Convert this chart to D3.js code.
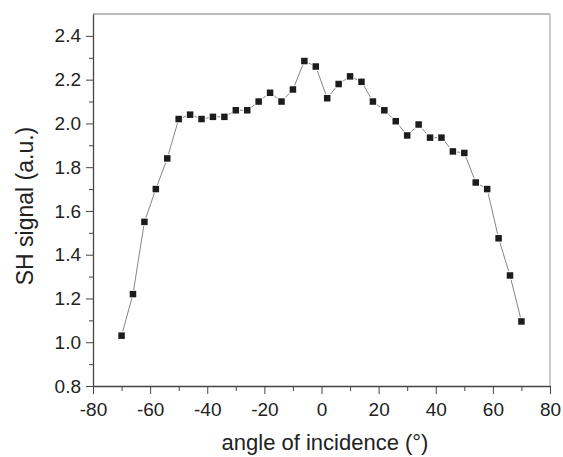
<!DOCTYPE html>
<html>
<head>
<meta charset="utf-8">
<script src="https://cdn.jsdelivr.net/npm/d3@7"></script>
<style>
  body { margin: 0; background: #fff; }
  text { font-family: "Liberation Sans", Arial, sans-serif; fill: #222; }
</style>
</head>
<body>
<script>
// angle of incidence (deg) and SH signal (a.u.)
var angles = [-70, -66, -62, -58, -54, -50, -46, -42, -38, -34, -30, -26, -22, -18, -14, -10, -6, -2,
              2, 6, 10, 14, 18, 22, 26, 30, 34, 38, 42, 46, 50, 54, 58, 62, 66, 70];
var signal = [1.03, 1.22, 1.55, 1.70, 1.84, 2.02, 2.04, 2.02, 2.03, 2.03, 2.06, 2.06, 2.10, 2.14, 2.10, 2.155, 2.285, 2.26,
              2.115, 2.18, 2.215, 2.19, 2.10, 2.06, 2.01, 1.945, 1.995, 1.935, 1.935, 1.872, 1.865, 1.73, 1.70, 1.475, 1.305, 1.095];
var xTicks = [-80, -60, -40, -20, 0, 20, 40, 60, 80];
var yTicks = [0.8, 1.0, 1.2, 1.4, 1.6, 1.8, 2.0, 2.2, 2.4];

var margin = { top: 14, right: 13, bottom: 71, left: 93 },
    width = 563 - margin.left - margin.right,
    height = 457 - margin.top - margin.bottom;

var svg = d3.select("body").append("svg")
    .attr("width", 563)
    .attr("height", 457);

var g = svg.append("g")
    .attr("transform", "translate(" + margin.left + "," + margin.top + ")");

var x = d3.scaleLinear().domain([-80, 80]).range([0, width]);
var y = d3.scaleLinear().domain([0.8, 2.5]).range([height, 0]);

// frame top / right
g.append("line").attr("x1", 0).attr("x2", width).attr("y1", 0).attr("y2", 0)
    .attr("stroke", "#777").attr("stroke-width", 1.2);
g.append("line").attr("x1", width).attr("x2", width).attr("y1", 0).attr("y2", height)
    .attr("stroke", "#aaa").attr("stroke-width", 1.2);

// minor ticks
g.append("g")
    .attr("transform", "translate(0," + height + ")")
    .call(d3.axisBottom(x).tickValues(d3.range(-70, 80, 20)).tickSize(5).tickFormat(""))
    .call(function(s) { s.select(".domain").remove(); s.selectAll("line").attr("stroke", "#444"); });
g.append("g")
    .call(d3.axisLeft(y).tickValues([0.9, 1.1, 1.3, 1.5, 1.7, 1.9, 2.1, 2.3]).tickSize(4).tickFormat(""))
    .call(function(s) { s.select(".domain").remove(); s.selectAll("line").attr("stroke", "#444"); });

// x axis (plain hyphen for minus, like the original)
var xAxis = g.append("g")
    .attr("transform", "translate(0," + height + ")")
    .call(d3.axisBottom(x).tickValues(xTicks).tickSize(8).tickSizeOuter(0).tickPadding(9)
        .tickFormat(function(d) { return String(d); }));
xAxis.select(".domain").attr("stroke", "#444").attr("stroke-width", 1.3);
xAxis.selectAll("line").attr("stroke", "#444");
xAxis.selectAll("text").style("font-size", "19px").attr("fill", "#222");

// y axis
var yAxis = g.append("g")
    .call(d3.axisLeft(y).tickValues(yTicks).tickSize(7).tickSizeOuter(0).tickPadding(5)
        .tickFormat(d3.format(".1f")));
yAxis.select(".domain").attr("stroke", "#444").attr("stroke-width", 1.3);
yAxis.selectAll("line").attr("stroke", "#444");
yAxis.selectAll("text").style("font-size", "19px").attr("fill", "#222");

// axis titles
svg.append("text")
    .attr("x", 325)
    .attr("y", 450)
    .attr("text-anchor", "middle")
    .style("font-size", "22px")
    .text("angle of incidence (°)");

svg.append("text")
    .attr("transform", "translate(33,206) rotate(-90)")
    .attr("text-anchor", "middle")
    .style("font-size", "23px")
    .text("SH signal (a.u.)");

var data = angles.map(function(a, i) { return { a: a, v: signal[i] }; });

// connecting line
var line = d3.line()
    .x(function(d) { return x(d.a); })
    .y(function(d) { return y(d.v); });

g.append("path")
    .datum(data)
    .attr("fill", "none")
    .attr("stroke", "#666")
    .attr("stroke-width", 0.8)
    .attr("d", line);

// square markers
g.selectAll(".pt")
    .data(data)
    .enter().append("rect")
    .attr("class", "pt")
    .attr("x", function(d) { return x(d.a) - 3.25; })
    .attr("y", function(d) { return y(d.v) - 3.25; })
    .attr("width", 6.5)
    .attr("height", 6.5)
    .attr("fill", "#1c1c1c")
    .attr("stroke", "#fff")
    .attr("stroke-width", 2)
    .attr("paint-order", "stroke");
</script>
</body>
</html>
